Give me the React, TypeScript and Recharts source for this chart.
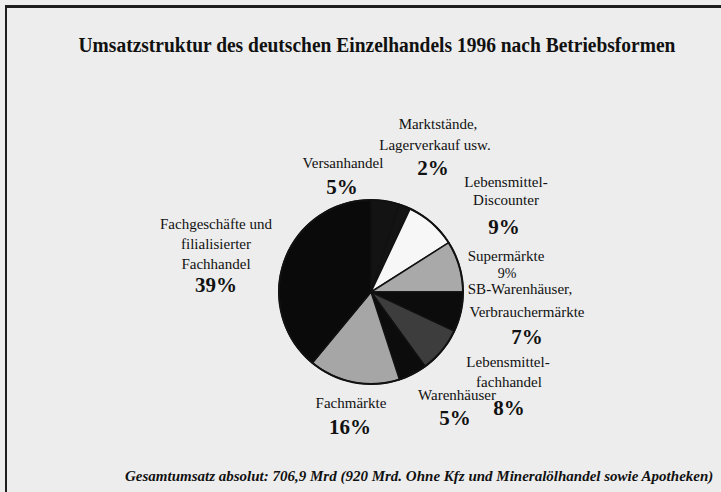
import React from 'react';
import { PieChart, Pie, Cell } from 'recharts';

// ---- data ----
const categories = [
  'Versanhandel',
  'Marktstände,\nLagerverkauf usw.',
  'Lebensmittel-\nDiscounter',
  'Supermärkte',
  'SB-Warenhäuser,\nVerbrauchermärkte',
  'Lebensmittel-\nfachhandel',
  'Warenhäuser',
  'Fachmärkte',
  'Fachgeschäfte und\nfilialisierter\nFachhandel',
];
const shares = [5, 2, 9, 9, 7, 8, 5, 16, 39];
const percentLabels = ['5%', '2%', '9%', '9%', '7%', '8%', '5%', '16%', '39%'];

const titleText = 'Umsatzstruktur des deutschen Einzelhandels 1996 nach Betriebsformen';
const footerText =
  'Gesamtumsatz absolut: 706,9 Mrd (920 Mrd. Ohne Kfz und Mineralölhandel sowie Apotheken)';

const data = categories.map((name, i) => ({ name, value: shares[i] }));

// ---- styles / layout ----
const sliceColors = [
  '#131313',
  '#141414',
  '#f7f7f7',
  '#a9a9a9',
  '#0c0c0c',
  '#3d3d3d',
  '#0c0c0c',
  '#a6a6a6',
  '#0a0a0a',
];

// label placement relative to the pie centre: name lines, then percentage
const labelLayout: { lines: number[][]; pct: number[]; pctBold: boolean }[] = [
  { lines: [[-28, -129]], pct: [-29, -105], pctBold: true },
  { lines: [[67, -168], [64, -147]], pct: [62, -124], pctBold: true },
  { lines: [[135, -110], [135, -92]], pct: [133, -65], pctBold: true },
  { lines: [[135, -36]], pct: [136, -19], pctBold: false },
  { lines: [[149, -3], [156, 20]], pct: [156, 45], pctBold: true },
  { lines: [[137, 70], [138, 90]], pct: [138, 116], pctBold: true },
  { lines: [[86, 103]], pct: [84, 126], pctBold: true },
  { lines: [[-20, 111]], pct: [-21, 135], pctBold: true },
  { lines: [[-155, -68], [-155, -48], [-155, -28]], pct: [-155, -7], pctBold: true },
];

const FONT = '"Liberation Serif", "Times New Roman", serif';

const renderLabel = (props: any) => {
  const { cx, cy, index } = props;
  const layout = labelLayout[index];
  const names = categories[index].split('\n');
  return (
    <g key={`lbl-${index}`}>
      {names.map((line, j) => (
        <text
          key={j}
          x={cx + layout.lines[j][0]}
          y={cy + layout.lines[j][1]}
          textAnchor="middle"
          dominantBaseline="central"
          fontFamily={FONT}
          fontSize={15}
          fill="#111"
        >
          {line}
        </text>
      ))}
      <text
        x={cx + layout.pct[0]}
        y={cy + layout.pct[1]}
        textAnchor="middle"
        dominantBaseline="central"
        fontFamily={FONT}
        fontSize={layout.pctBold ? 21 : 14}
        fontWeight={layout.pctBold ? 'bold' : 'normal'}
        fill="#111"
      >
        {percentLabels[index]}
      </text>
    </g>
  );
};

export default function App() {
  return (
    <div
      style={{
        position: 'absolute',
        left: 0,
        top: 0,
        width: 721,
        height: 492,
        overflow: 'hidden',
        background: '#ededed',
      }}
    >
      <div
        style={{
          position: 'absolute',
          left: 5,
          top: 5,
          width: 780,
          height: 560,
          borderLeft: '2px solid #1e1e1e',
          borderTop: '3px solid #1e1e1e',
        }}
      />
      <div style={{ position: 'absolute', left: 0, top: 0 }}>
        <PieChart width={721} height={492}>
          <Pie
            data={data}
            dataKey="value"
            nameKey="name"
            cx={366}
            cy={287}
            outerRadius={92}
            startAngle={90}
            endAngle={-270}
            stroke="#111"
            strokeWidth={1.5}
            labelLine={false}
            label={renderLabel}
            isAnimationActive={false}
          >
            {data.map((d, i) => (
              <Cell key={d.name} fill={sliceColors[i]} />
            ))}
          </Pie>
          <Pie
            data={[{ name: 'outline', value: 1 }]}
            dataKey="value"
            cx={366}
            cy={287}
            innerRadius={91}
            outerRadius={93}
            startAngle={90}
            endAngle={-270}
            fill="#111"
            stroke="none"
            isAnimationActive={false}
          />
        </PieChart>
      </div>
      <svg
        width={721}
        height={492}
        style={{ position: 'absolute', left: 0, top: 0, pointerEvents: 'none' }}
      >
        <g transform="translate(377,52) scale(0.886,1)">
          <text
            x={0}
            y={0}
            textAnchor="middle"
            fontFamily={FONT}
            fontWeight="bold"
            fontSize={22}
            fill="#111"
          >
            {titleText}
          </text>
        </g>
        <text
          x={125}
          y={481}
          fontFamily={FONT}
          fontWeight="bold"
          fontStyle="italic"
          fontSize={15}
          fill="#111"
        >
          {footerText}
        </text>
      </svg>
    </div>
  );
}
